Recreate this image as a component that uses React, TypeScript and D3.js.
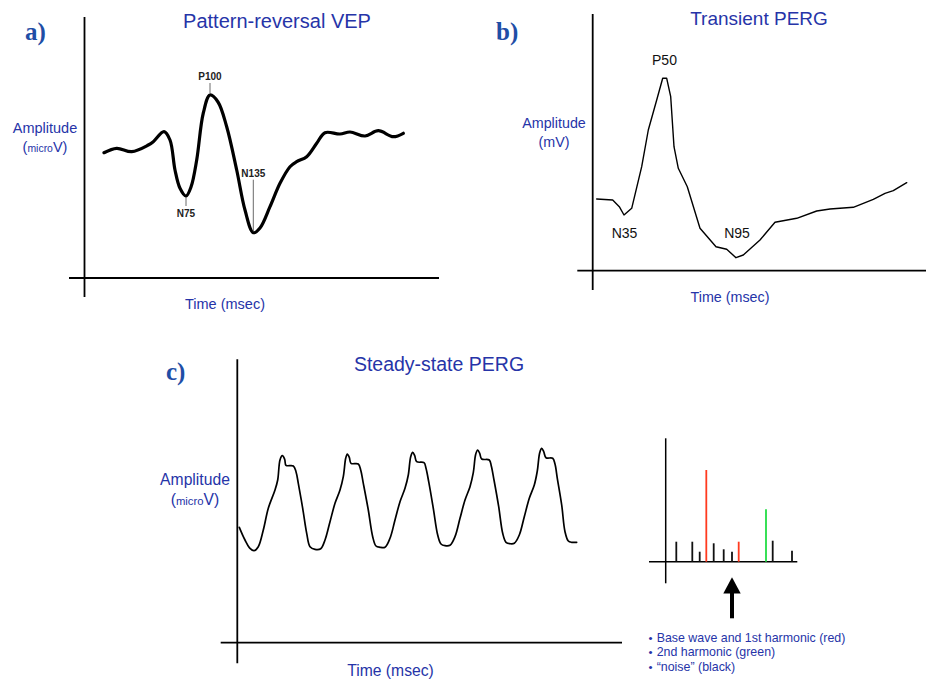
import React from 'react';
import * as d3 from 'd3';

// a) pattern-reversal VEP (time / amplitude in axis units)
const vepTime = [19.5, 32.2, 47.2, 63.8, 68.8, 79.5, 85.5, 90.5, 95.5, 101.5, 106.5, 112.2, 118.8, 125.5, 133.5, 142.2, 152.2, 160.5, 168.8, 175.5, 185.5, 195.5, 205.5, 212.2, 222.2, 232.2, 240.5, 255.5, 265.5, 280.5, 293.8, 308.8, 318.8];
const vepAmp = [125.3, 129.7, 126.3, 133, 136.3, 146.3, 138, 108, 89.7, 82, 91, 118, 165, 183, 176, 151.3, 108, 68, 45.3, 50, 71.3, 94.7, 111.3, 116.3, 121.3, 134.7, 145.3, 144, 146, 142, 147.3, 141.3, 144.7];
const vepPeaks = ['N75', 'P100', 'N135'];
const vepPeakIdx = [9, 13, 18];

// b) transient PERG
const pergTime = [4, 20, 26.6, 31.3, 39, 49, 55.6, 64, 70, 74, 78, 81.3, 85.6, 94.6, 107.3, 123.3, 134, 143.3, 150.6, 167.3, 182.3, 204, 224, 237.3, 260.6, 280.6, 292.3, 300.6, 314];
const pergAmp = [71.7, 70.7, 64, 55.7, 62.4, 104, 140.7, 170.7, 192.4, 192.4, 174, 124, 102.4, 84, 42.4, 24, 21.4, 13, 15.7, 30.7, 48.4, 52.4, 59.7, 61.7, 63.4, 71.4, 77.4, 80, 88];
const pergPeaks = ['N35', 'P50', 'N95'];

// c) steady-state PERG
const ssTime = [2, 7.7, 12.7, 16.7, 21, 26, 31, 37.7, 40.4, 42.7, 45, 47.4, 48.7, 56, 58.7, 61, 65.4, 69.4, 72.7, 77.7, 83.4, 87.7,
  92.7, 97.7, 102.7, 106, 108.4, 110, 112, 113.7, 121, 123.4, 126, 131, 135.4, 138.7, 142.7, 147.7, 152.7,
  157.7, 162.7, 167.7, 171, 173.4, 175.4, 177.4, 179.4, 186.7, 188.7, 191.4, 196, 200.4, 203.7, 207.7, 212.7, 217.7,
  222.7, 227.7, 232.7, 236, 238.4, 240.4, 242.4, 244.4, 252, 254, 256.7, 261.4, 265.4, 268.7, 272.7, 277, 282,
  287, 292, 297, 300, 302.4, 304.4, 306.4, 308.7, 315.4, 317.7, 320, 324.4, 327.7, 331, 334.4, 339.4];
const ssAmp = [115.4, 102.7, 94.4, 92, 96, 112.7, 134.4, 152.7, 162.7, 182.7, 187, 183.4, 177.4, 176.7, 171, 159.4, 134.4, 109.4, 96, 93.4, 94, 102.7,
  121, 139.4, 152.7, 166, 184.4, 188.7, 185.4, 179.4, 178.7, 172.7, 159.4, 132.7, 106, 96.7, 95.4, 95.4, 104.4,
  122.7, 141, 154.4, 167.7, 186, 190.4, 187, 181, 180, 174.4, 161, 134.4, 107.7, 98.7, 97, 97.4, 106,
  124.4, 142.7, 156, 170, 188.4, 192.7, 189.4, 183.7, 182.7, 176.7, 162.7, 136, 109.4, 100.4, 99, 99.4, 107.7,
  126, 144.4, 157.7, 171.7, 190, 194.4, 191, 185, 184.4, 178.7, 164.4, 137.7, 111, 101.7, 100.4, 100.4];

// spectrum
const specFreq = [10.6, 26.6, 34, 40.6, 48, 58, 66.3, 73, 100.3, 107, 126.3];
const specAmp = [20, 20, 10, 91.7, 18.4, 12.4, 10, 20, 52.4, 21, 11];
const specKind = ['noise', 'noise', 'noise', 'red', 'noise', 'noise', 'noise', 'red', 'green', 'noise', 'noise'];
const legendItems = ['Base wave and 1st harmonic (red)', '2nd harmonic (green)', '\u201cnoise\u201d (black)'];

const BLUE = '#2634a8';
const LABEL_BLUE = '#1f4ea6';
const SANS = '"Liberation Sans", Arial, Helvetica, sans-serif';
const kindColor = { noise: '#111', red: '#ff3b1f', green: '#22dd44' };

function makeScales(ox, oy, xEnd, yTop) {
  const x = d3.scaleLinear().domain([0, xEnd - ox]).range([ox, xEnd]);
  const y = d3.scaleLinear().domain([0, oy - yTop]).range([oy, yTop]);
  return { x, y };
}

function Axes({ x, y, xOver, yOver }) {
  const [x0, x1] = x.range();
  const [y0, y1] = y.range();
  return (
    <g stroke="#000" strokeWidth={1.8}>
      <line x1={x0} x2={x0} y1={y1} y2={y0 + yOver} />
      <line x1={x0 - xOver} x2={x1} y1={y0} y2={y0} />
    </g>
  );
}

function Wave({ x, y, time, amp, curve, width }) {
  const d = d3.line()
    .x((_, i) => x(time[i]))
    .y((_, i) => y(amp[i]))
    .curve(curve)(time);
  return <path d={d} fill="none" stroke="#000" strokeWidth={width} strokeLinejoin="round" strokeLinecap="round" />;
}

function AmpLabel({ cx, by, size, unit, micro }) {
  return (
    <g fill={BLUE} fontFamily={SANS} textAnchor="middle">
      <text x={cx} y={by} fontSize={size}>Amplitude</text>
      <text x={cx} y={by + size * 1.3} fontSize={size}>
        (
        {micro ? <tspan fontSize={size * 0.72}>micro</tspan> : null}
        {unit})
      </text>
    </g>
  );
}

export default function App() {
  const a = makeScales(84.5, 278, 439, 17);
  const b = makeScales(592.7, 270.7, 926, 14);
  const c = makeScales(237.3, 642.7, 622, 359.3);
  const s = makeScales(665.7, 561.7, 797.3, 438.3);

  const n75 = [a.x(vepTime[vepPeakIdx[0]]), a.y(vepAmp[vepPeakIdx[0]])];
  const p100 = [a.x(vepTime[vepPeakIdx[1]]), a.y(vepAmp[vepPeakIdx[1]])];
  const n135 = [a.x(vepTime[vepPeakIdx[2]]), a.y(vepAmp[vepPeakIdx[2]])];

  const ax = s.x(66.3);

  return (
    <svg width={926} height={679} style={{ position: 'absolute', left: 0, top: 0, background: '#fff' }}>
      {/* panel labels */}
      <g fill={LABEL_BLUE} fontFamily='"Liberation Serif", "DejaVu Serif", serif' fontWeight="bold" fontSize={25}>
        <text x={25} y={40}>a)</text>
        <text x={496} y={40}>b)</text>
        <text x={166} y={380}>c)</text>
      </g>

      {/* a) VEP */}
      <text x={277} y={28} textAnchor="middle" fontFamily={SANS} fontSize={20} fill={BLUE}>Pattern-reversal VEP</text>
      <Axes x={a.x} y={a.y} xOver={15.5} yOver={19} />
      <Wave x={a.x} y={a.y} time={vepTime} amp={vepAmp} curve={d3.curveCatmullRom.alpha(0.5)} width={3.2} />
      <AmpLabel cx={45} by={133} size={14.5} unit="V" micro />
      <text x={225} y={308.5} textAnchor="middle" fontFamily={SANS} fontSize={14.5} fill={BLUE}>Time (msec)</text>
      <g stroke="#444" strokeWidth={0.8}>
        <line x1={n75[0]} x2={n75[0]} y1={n75[1] + 1} y2={n75[1] + 10} />
        <line x1={p100[0]} x2={p100[0]} y1={p100[1] - 2} y2={p100[1] - 12} />
        <line x1={n135[0]} x2={n135[0]} y1={n135[1] - 1} y2={n135[1] - 53} />
      </g>
      <g fontFamily={SANS} fontSize={10} fontWeight="bold" fill="#222" textAnchor="middle">
        <text x={n75[0]} y={n75[1] + 21}>{vepPeaks[0]}</text>
        <text x={p100[0]} y={p100[1] - 15}>{vepPeaks[1]}</text>
        <text x={n135[0]} y={n135[1] - 56}>{vepPeaks[2]}</text>
      </g>

      {/* b) transient PERG */}
      <text x={759} y={25} textAnchor="middle" fontFamily={SANS} fontSize={19} fill={BLUE}>Transient PERG</text>
      <Axes x={b.x} y={b.y} xOver={15.4} yOver={19.3} />
      <Wave x={b.x} y={b.y} time={pergTime} amp={pergAmp} curve={d3.curveLinear} width={1.4} />
      <AmpLabel cx={554} by={128} size={14.3} unit="mV" />
      <text x={730} y={302} textAnchor="middle" fontFamily={SANS} fontSize={14.3} fill={BLUE}>Time (msec)</text>
      <g fontFamily={SANS} fontSize={14} fill="#111" textAnchor="middle">
        <text x={b.x(31.8)} y={238}>{pergPeaks[0]}</text>
        <text x={b.x(71.8)} y={65}>{pergPeaks[1]}</text>
        <text x={b.x(144.3)} y={238}>{pergPeaks[2]}</text>
      </g>

      {/* c) steady-state PERG */}
      <text x={439} y={370.5} textAnchor="middle" fontFamily={SANS} fontSize={19.5} fill={BLUE}>Steady-state PERG</text>
      <Axes x={c.x} y={c.y} xOver={16.6} yOver={20.6} />
      <Wave x={c.x} y={c.y} time={ssTime} amp={ssAmp} curve={d3.curveCatmullRom.alpha(0.5)} width={1.7} />
      <AmpLabel cx={195} by={485} size={15.7} unit="V" micro />
      <text x={390.5} y={676} textAnchor="middle" fontFamily={SANS} fontSize={15.7} fill={BLUE}>Time (msec)</text>

      {/* spectrum */}
      <g stroke="#000" strokeWidth={1.5}>
        <line x1={s.x(0)} x2={s.x(0)} y1={s.y.range()[1]} y2={s.y(0) + 21.6} />
        <line x1={s.x(0) - 16.7} x2={s.x.range()[1]} y1={s.y(0)} y2={s.y(0)} />
      </g>
      {specFreq.map((f, i) => (
        <line key={i} x1={s.x(f)} x2={s.x(f)} y1={s.y(0)} y2={s.y(specAmp[i])}
          stroke={kindColor[specKind[i]]} strokeWidth={1.8} />
      ))}
      <line x1={ax} x2={ax} y1={618.3} y2={590} stroke="#000" strokeWidth={4} />
      <path d={`M${ax},577.3L${ax + 8.7},593.5L${ax - 8.7},593.5Z`} fill="#000" />
      <g fontFamily={SANS} fontSize={12.4} fill={BLUE}>
        {legendItems.map((t, i) => (
          <text key={i} x={648.5} y={641.7 + i * 14.5}>
            <tspan fontSize={11.5}>{'\u2022'}</tspan>
            <tspan x={656.7}>{t}</tspan>
          </text>
        ))}
      </g>
    </svg>
  );
}
